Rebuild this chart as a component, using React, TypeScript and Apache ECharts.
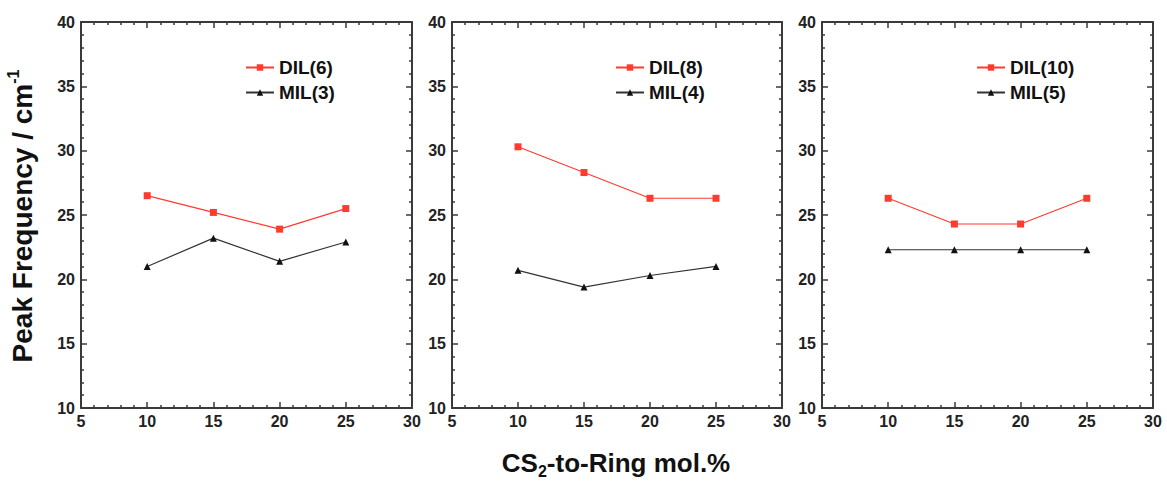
import React, { useEffect, useRef } from "react";
import * as echarts from "echarts";

const xValues = [10, 15, 20, 25];
const dil6 = [26.5, 25.2, 23.9, 25.5];
const mil3 = [21.0, 23.2, 21.4, 22.9];
const dil8 = [30.3, 28.3, 26.3, 26.3];
const mil4 = [20.7, 19.4, 20.3, 21.0];
const dil10 = [26.3, 24.3, 24.3, 26.3];
const mil5 = [22.3, 22.3, 22.3, 22.3];

const panels = [
  { dilName: "DIL(6)", milName: "MIL(3)", dil: dil6, mil: mil3 },
  { dilName: "DIL(8)", milName: "MIL(4)", dil: dil8, mil: mil4 },
  { dilName: "DIL(10)", milName: "MIL(5)", dil: dil10, mil: mil5 },
];

const X_MIN = 5, X_MAX = 30, X_INT = 5;
const Y_MIN = 10, Y_MAX = 40, Y_INT = 5;

const gridLefts = [81, 452, 822];
const gridWidths = [331, 330, 331];
const legendLefts = [245, 615, 976];

const AXIS_COLOR = "#3a3a3a";
const LABEL_COLOR = "#222";
const RED = "#ff3b30";
const BLACK = "#333";
const FONT = "Arial, Liberation Sans, sans-serif";

export default function App() {
  const ref = useRef<HTMLDivElement>(null);
  useEffect(() => {
    if (!ref.current) return;
    const chart = echarts.init(ref.current, null, { renderer: "svg" });

    const grids: any[] = [];
    const xAxes: any[] = [];
    const yAxes: any[] = [];
    const series: any[] = [];
    const legends: any[] = [];

    const axisLine = { show: true, lineStyle: { color: AXIS_COLOR, width: 2 } };
    const axisTick = { show: true, inside: true, length: 6, lineStyle: { color: AXIS_COLOR, width: 1.5 } };
    const minorTick = { show: true, splitNumber: 5, length: 3, lineStyle: { color: AXIS_COLOR, width: 1.5 } };
    const labelStyle = { color: LABEL_COLOR, fontSize: 16, fontWeight: "bold", fontFamily: FONT };

    panels.forEach((p, i) => {
      grids.push({ left: gridLefts[i], top: 22, width: gridWidths[i], height: 386, containLabel: false });
      xAxes.push({
        type: "value", gridIndex: i, min: X_MIN, max: X_MAX, interval: X_INT, position: "bottom",
        axisLine, axisTick, minorTick, splitLine: { show: false },
        axisLabel: { ...labelStyle, margin: 5 },
      });
      xAxes.push({
        type: "value", gridIndex: i, min: X_MIN, max: X_MAX, interval: X_INT, position: "top",
        axisLine, axisTick, minorTick, splitLine: { show: false }, axisLabel: { show: false },
      });
      yAxes.push({
        type: "value", gridIndex: i, min: Y_MIN, max: Y_MAX, interval: Y_INT, position: "left",
        axisLine, axisTick, minorTick, splitLine: { show: false },
        axisLabel: { ...labelStyle, margin: 6 },
      });
      yAxes.push({
        type: "value", gridIndex: i, min: Y_MIN, max: Y_MAX, interval: Y_INT, position: "right",
        axisLine, axisTick, minorTick, splitLine: { show: false }, axisLabel: { show: false },
      });
      series.push({
        name: p.dilName, type: "line", xAxisIndex: i * 2, yAxisIndex: i * 2,
        data: xValues.map((x, k) => [x, p.dil[k]]),
        symbol: "rect", symbolSize: 7,
        lineStyle: { color: RED, width: 1.2 }, itemStyle: { color: RED },
      });
      series.push({
        name: p.milName, type: "line", xAxisIndex: i * 2, yAxisIndex: i * 2,
        data: xValues.map((x, k) => [x, p.mil[k]]),
        symbol: "triangle", symbolSize: 7,
        lineStyle: { color: BLACK, width: 1.2 }, itemStyle: { color: "#111" },
      });
      legends.push({
        data: [p.dilName, p.milName], orient: "vertical", left: legendLefts[i], top: 58,
        padding: 0, itemWidth: 28, itemHeight: 8, itemGap: 6,
        textStyle: { fontSize: 19, fontWeight: "bold", color: "#111", fontFamily: FONT },
      });
    });

    chart.setOption({
      animation: false,
      backgroundColor: "#fff",
      grid: grids,
      xAxis: xAxes,
      yAxis: yAxes,
      series,
      legend: legends,
      graphic: [
        {
          type: "text", x: 22, y: 216, rotation: Math.PI / 2,
          style: {
            text: "{a|Peak Frequency / cm}{sup|-1}",
            align: "center", verticalAlign: "middle",
            rich: {
              a: { fontSize: 28, fontWeight: "bold", fill: "#111", fontFamily: FONT, lineHeight: 34 },
              sup: { fontSize: 16, fontWeight: "bold", fill: "#111", fontFamily: FONT, lineHeight: 16, verticalAlign: "top" },
            },
          },
        },
        {
          type: "text", x: 616, y: 463,
          style: {
            text: "{a|CS}{sub|2}{a|-to-Ring mol.%}",
            align: "center", verticalAlign: "middle",
            rich: {
              a: { fontSize: 26, fontWeight: "bold", fill: "#111", fontFamily: FONT, lineHeight: 32 },
              sub: { fontSize: 16, fontWeight: "bold", fill: "#111", fontFamily: FONT, lineHeight: 16, verticalAlign: "bottom" },
            },
          },
        },
      ],
    });
    return () => chart.dispose();
  }, []);
  return <div ref={ref} style={{ position: "fixed", left: 0, top: 0, width: 1167, height: 483 }} />;
}
